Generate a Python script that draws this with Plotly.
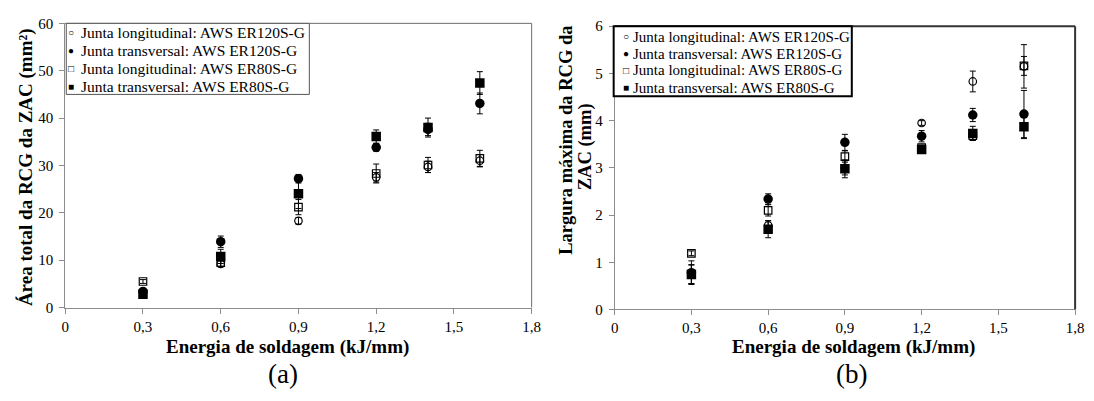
import plotly.graph_objects as go

# ---------------- data ----------------
energy = [0.3, 0.6, 0.9, 1.2, 1.4, 1.6]

# (a) Área total da RCG da ZAC (mm²)
a_long120 = [3.0, 9.2, 18.3, 27.5, 29.7, 31.0]
a_long120_err = [0.5, 0.6, 0.7, 1.0, 1.2, 1.3]
a_trans120 = [3.4, 13.9, 27.2, 33.8, 37.6, 43.1]
a_trans120_err = [0.5, 1.2, 0.9, 0.8, 1.3, 2.2]
a_long80 = [5.5, 9.5, 21.2, 28.3, 30.1, 31.5]
a_long80_err = [0.4, 0.8, 1.6, 2.0, 1.6, 1.7]
a_trans80 = [2.8, 10.8, 24.0, 36.1, 38.0, 47.4]
a_trans80_err = [0.4, 1.5, 3.1, 1.4, 2.0, 2.4]

# (b) Largura máxima da RCG da ZAC (mm)
b_long120 = [0.75, 1.78, 3.0, 3.95, 4.83, 5.15]
b_long120_err = [0.2, 0.1, 0.15, 0.05, 0.22, 0.46]
b_trans120 = [0.78, 2.34, 3.54, 3.67, 4.12, 4.14]
b_trans120_err = [0.25, 0.11, 0.17, 0.12, 0.14, 0.5]
b_long80 = [1.19, 2.10, 3.24, 3.43, 3.68, 5.16]
b_long80_err = [0.05, 0.12, 0.12, 0.05, 0.1, 0.2]
b_trans80 = [0.74, 1.70, 2.98, 3.39, 3.73, 3.87]
b_trans80_err = [0.2, 0.18, 0.19, 0.06, 0.15, 0.25]

names = [
    "Junta longitudinal: AWS ER120S-G",
    "Junta transversal: AWS ER120S-G",
    "Junta longitudinal: AWS ER80S-G",
    "Junta transversal: AWS ER80S-G",
]
legend_symbols = ["○", "●", "□", "■"]
x_ticks = [0, 0.3, 0.6, 0.9, 1.2, 1.5, 1.8]

FONT = "Liberation Serif"
styles = [
    dict(symbol="circle-open", size=7.5, color="black", line=dict(width=1.2, color="black")),
    dict(symbol="circle", size=9.5, color="black"),
    dict(symbol="square-open", size=7.5, color="black", line=dict(width=1.2, color="black")),
    dict(symbol="square", size=9.5, color="black"),
]

fig = go.Figure()

series_a = [(a_long120, a_long120_err), (a_trans120, a_trans120_err),
            (a_long80, a_long80_err), (a_trans80, a_trans80_err)]
series_b = [(b_long120, b_long120_err), (b_trans120, b_trans120_err),
            (b_long80, b_long80_err), (b_trans80, b_trans80_err)]

for i, (vals, err) in enumerate(series_a):
    fig.add_trace(go.Scatter(
        x=energy, y=vals, mode="markers", name=names[i], marker=styles[i],
        error_y=dict(type="data", array=err, color="black", thickness=1, width=3),
        xaxis="x", yaxis="y", showlegend=False))
for i, (vals, err) in enumerate(series_b):
    fig.add_trace(go.Scatter(
        x=energy, y=vals, mode="markers", name=names[i], marker=styles[i],
        error_y=dict(type="data", array=err, color="black", thickness=1, width=3),
        xaxis="x2", yaxis="y2", showlegend=False))

W, H = 1094, 401
def px(v): return v / W
def py(v): return 1 - v / H

axis_common = dict(
    showgrid=False, zeroline=False, showline=True, linecolor="#8c8c8c", linewidth=1,
    ticks="outside", tickcolor="#8c8c8c", ticklen=5, tickwidth=1,
    tickfont=dict(family=FONT, size=15, color="black"),
)

L1, R1, T1, B1 = 62, 534, 16, 312
L2, R2, T2, B2 = 618, 1084, 19, 314

fig.update_layout(
    width=W, height=H, margin=dict(l=0, r=0, t=0, b=0),
    paper_bgcolor="white", plot_bgcolor="white",
    separators=",.",
    font=dict(family=FONT, color="black"),
    showlegend=False,
    xaxis=dict(domain=[px(L1), px(R1)], range=[0, 1.8], tickvals=x_ticks,
               anchor="y", **axis_common),
    yaxis=dict(domain=[py(B1), py(T1)], range=[0, 60], dtick=10,
               anchor="x", ticklabelstandoff=3, **axis_common),
    xaxis2=dict(domain=[px(L2), px(R2)], range=[0, 1.8], tickvals=x_ticks,
                anchor="y2", **axis_common),
    yaxis2=dict(domain=[py(B2), py(T2)], range=[0, 6], dtick=1,
                anchor="x2", ticklabelstandoff=3, **axis_common),
)

shapes = [
    # frame (top/right) of panel (a)
    dict(type="line", xref="paper", yref="paper", x0=px(L1), x1=px(R1), y0=py(T1), y1=py(T1),
         line=dict(color="#6e6e6e", width=1)),
    dict(type="line", xref="paper", yref="paper", x0=px(R1), x1=px(R1), y0=py(T1), y1=py(B1),
         line=dict(color="#6e6e6e", width=1)),
    # frame (top/right) of panel (b)
    dict(type="line", xref="paper", yref="paper", x0=px(L2), x1=px(R2), y0=py(T2), y1=py(T2),
         line=dict(color="#333333", width=2)),
    dict(type="line", xref="paper", yref="paper", x0=px(R2), x1=px(R2), y0=py(T2), y1=py(B2),
         line=dict(color="#333333", width=2)),
    # legend boxes
    dict(type="rect", xref="paper", yref="paper", x0=px(63), x1=px(309), y0=py(90), y1=py(16),
         line=dict(color="#555555", width=1), fillcolor="white", layer="above"),
    dict(type="rect", xref="paper", yref="paper", x0=px(617), x1=px(858), y0=py(92), y1=py(19),
         line=dict(color="black", width=2), fillcolor="white", layer="above"),
]
fig.update_layout(shapes=shapes)

ann = []
def add_text(text, x, y, size, xanchor="center", angle=0):
    ann.append(dict(text=text, x=px(x), y=py(y), xref="paper", yref="paper",
                    showarrow=False, font=dict(family=FONT, size=size, color="black"),
                    xanchor=xanchor, yanchor="middle", textangle=angle))

# legends
rows_a = [25, 44, 63, 82]
rows_b = [30, 47.5, 65, 83]
for i in range(4):
    add_text(legend_symbols[i], 68, rows_a[i], 10)
    add_text(names[i], 76, rows_a[i], 15.5, xanchor="left")
    add_text(legend_symbols[i], 629, rows_b[i], 10)
    add_text(names[i], 635, rows_b[i], 15, xanchor="left")

add_text("<b>Energia de soldagem (kJ/mm)</b>", 287, 353, 19)
add_text("<b>Energia de soldagem (kJ/mm)</b>", 860, 353, 19)
add_text("<b>Área total da RCG da ZAC (mm²)</b>", 23, 166, 19, angle=-90)
add_text("<b>Largura máxima da RCG da</b>", 569, 138, 18.5, angle=-90)
add_text("<b>ZAC (mm)</b>", 588, 145, 18.5, angle=-90)
add_text("(a)", 282, 381, 27)
add_text("(b)", 858, 381, 27)
fig.update_layout(annotations=ann)

fig.write_html("out.html")
